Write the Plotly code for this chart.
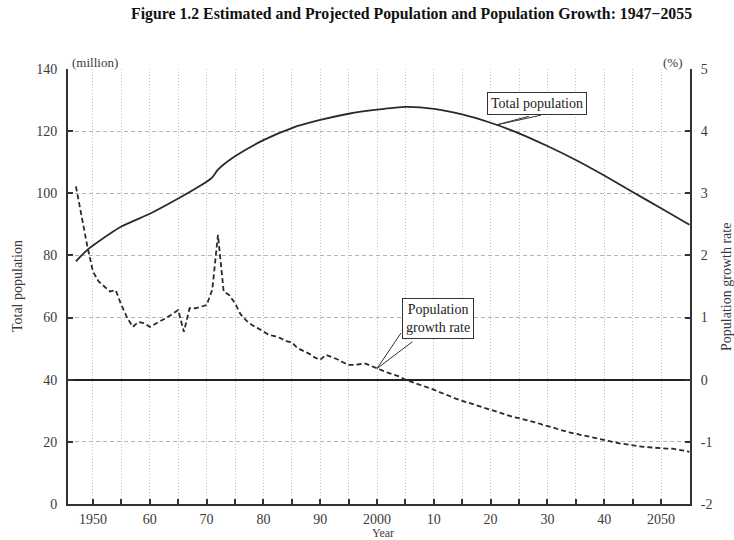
import plotly.graph_objects as go

# Total population (million), estimates to 2005 and projection thereafter
pop_years = [1947, 1948, 1949, 1950, 1955, 1960, 1965, 1970, 1971, 1972, 1975, 1980,
             1985, 1990, 1995, 2000, 2005, 2010, 2015, 2020, 2025, 2030, 2035,
             2040, 2045, 2050, 2055]
pop_values = [78.1, 80.0, 81.8, 83.2, 89.3, 93.4, 98.3, 103.7, 105.1, 107.6, 111.9, 117.1,
              121.0, 123.6, 125.6, 126.9, 127.8, 127.2, 125.4, 122.7, 119.3, 115.2, 110.7,
              105.7, 100.4, 95.2, 89.9]

# Annual population growth rate (%), 1947-2055
rate_years = list(range(1947, 2056))
rate_values = [
    3.11, 2.60, 2.15, 1.74, 1.58, 1.50, 1.42, 1.44, 1.20, 1.00,   # 1947-1956
    0.85, 0.93, 0.91, 0.85, 0.90, 0.94, 1.00, 1.06, 1.12, 0.77,   # 1957-1966
    1.15, 1.15, 1.17, 1.20, 1.45, 2.33, 1.42, 1.36, 1.23, 1.05,   # 1967-1976
    0.95, 0.88, 0.83, 0.78, 0.72, 0.70, 0.67, 0.62, 0.60, 0.51,   # 1977-1986
    0.47, 0.42, 0.36, 0.32, 0.40, 0.37, 0.33, 0.28, 0.24, 0.24,   # 1987-1996
    0.25, 0.26, 0.22, 0.18, 0.15, 0.11, 0.08, 0.05, 0.00, -0.03,  # 1997-2006
    -0.06, -0.09, -0.13, -0.16, -0.20, -0.23, -0.27, -0.31, -0.34, -0.37,  # 2007-2016
    -0.40, -0.43, -0.46, -0.49, -0.52, -0.55, -0.58, -0.60, -0.62, -0.64,  # 2017-2026
    -0.67, -0.69, -0.72, -0.74, -0.77, -0.80, -0.83, -0.85, -0.87, -0.89,  # 2027-2036
    -0.92, -0.94, -0.96, -0.98, -1.00, -1.01, -1.03, -1.04, -1.06, -1.07,  # 2037-2046
    -1.08, -1.09, -1.10, -1.10, -1.11, -1.11, -1.12, -1.14, -1.16,         # 2047-2055
]

x_tickvals = list(range(1950, 2060, 5))
x_ticktext = ["1950", "", "60", "", "70", "", "80", "", "90", "", "2000", "",
              "10", "", "20", "", "30", "", "40", "", "2050", ""]
left_ticks = [0, 20, 40, 60, 80, 100, 120, 140]
right_ticks = [-2, -1, 0, 1, 2, 3, 4, 5]
right_ticktext = ["-2", "-1", "0", "1", "2", "3", "4", "5"]

SERIF = "Liberation Serif"
INK = "#2a2a2a"
TXT = "#3a3a3a"

fig = go.Figure()
fig.add_trace(go.Scatter(
    x=pop_years, y=pop_values, mode="lines", yaxis="y",
    line=dict(color=INK, width=1.8, shape="spline", smoothing=0.6),
    name="Total population", showlegend=False))
fig.add_trace(go.Scatter(
    x=rate_years, y=rate_values, mode="lines", yaxis="y2",
    line=dict(color=INK, width=1.8, dash="5px,3px"),
    name="Population growth rate", showlegend=False))

fig.update_layout(
    width=734, height=540,
    margin=dict(l=68, r=44, t=69, b=36, autoexpand=False),
    paper_bgcolor="white", plot_bgcolor="white",
    font=dict(family=SERIF, size=14, color=TXT),
    xaxis=dict(
        range=[1945.6, 2055.1], tickvals=x_tickvals, ticktext=x_ticktext,
        showgrid=True, gridcolor="#c4c4c4", griddash="1px,2px", gridwidth=1,
        showline=True, linecolor="#333", linewidth=2,
        ticks="inside", ticklen=5, tickwidth=1.5, tickcolor="#333",
        ticklabelstandoff=1, zeroline=False, automargin=False,
    ),
    yaxis=dict(
        range=[0, 140], tickvals=left_ticks,
        showgrid=True, gridcolor="#b4b4b4", griddash="4px,3px", gridwidth=1,
        showline=True, linecolor="#333", linewidth=2,
        ticks="inside", ticklen=5, tickwidth=1.5, tickcolor="#333",
        ticklabelstandoff=6, zeroline=False, automargin=False,
    ),
    yaxis2=dict(
        range=[-2, 5], tickvals=right_ticks, ticktext=right_ticktext,
        overlaying="y", side="right",
        showgrid=False, zeroline=True, zerolinecolor="#222", zerolinewidth=2,
        showline=True, linecolor="#333", linewidth=2,
        ticks="inside", ticklen=5, tickwidth=1.5, tickcolor="#333",
        ticklabelstandoff=6, automargin=False,
    ),
)

ann = []
# Title and axis titles
ann.append(dict(text="<b>Figure 1.2 Estimated and Projected Population and Population Growth: 1947\u22122055</b>",
                xref="paper", yref="paper", x=0.553, y=1.126, showarrow=False,
                font=dict(family=SERIF, size=15.8, color="#111"), xanchor="center", yanchor="middle"))
ann.append(dict(text="(million)", xref="paper", yref="paper", x=0.003, y=1.016,
                showarrow=False, xanchor="left", yanchor="middle", font=dict(size=13)))
ann.append(dict(text="(%)", xref="paper", yref="paper", x=0.992, y=1.016,
                showarrow=False, xanchor="right", yanchor="middle", font=dict(size=13)))
ann.append(dict(text="Total population", xref="paper", yref="paper", x=-0.082, y=0.501,
                textangle=-90, showarrow=False, xanchor="center", yanchor="middle", font=dict(size=14)))
ann.append(dict(text="Population growth rate", xref="paper", yref="paper", x=1.0595, y=0.499,
                textangle=-90, showarrow=False, xanchor="center", yanchor="middle", font=dict(size=14)))
ann.append(dict(text="Year", xref="paper", yref="paper", x=0.506, y=-0.0667,
                showarrow=False, xanchor="center", yanchor="middle", font=dict(size=12)))

# Callout: total population
ann.append(dict(text="Total population", xref="x", yref="y", x=2028.2, y=128.9, showarrow=False,
                bordercolor="#333", borderwidth=1, borderpad=3, bgcolor="white",
                font=dict(size=14, color="#222")))
for axo, ayo in [(34, -9), (46, -10)]:
    ann.append(dict(text="", xref="x", yref="y", x=2021, y=122.0, ax=axo, ay=ayo,
                    showarrow=True, arrowhead=0, arrowwidth=1, arrowcolor="#333"))

# Callout: growth rate
ann.append(dict(text="Population<br>growth rate", xref="x", yref="y2", x=2010.8, y=0.985, showarrow=False,
                bordercolor="#333", borderwidth=1, borderpad=3, bgcolor="white",
                font=dict(size=14, color="#222")))
for axo, ayo in [(25, -37), (37, -28)]:
    ann.append(dict(text="", xref="x", yref="y2", x=2000, y=0.18, ax=axo, ay=ayo,
                    showarrow=True, arrowhead=0, arrowwidth=1, arrowcolor="#333"))

fig.update_layout(annotations=ann)
fig.write_html("out.html")
